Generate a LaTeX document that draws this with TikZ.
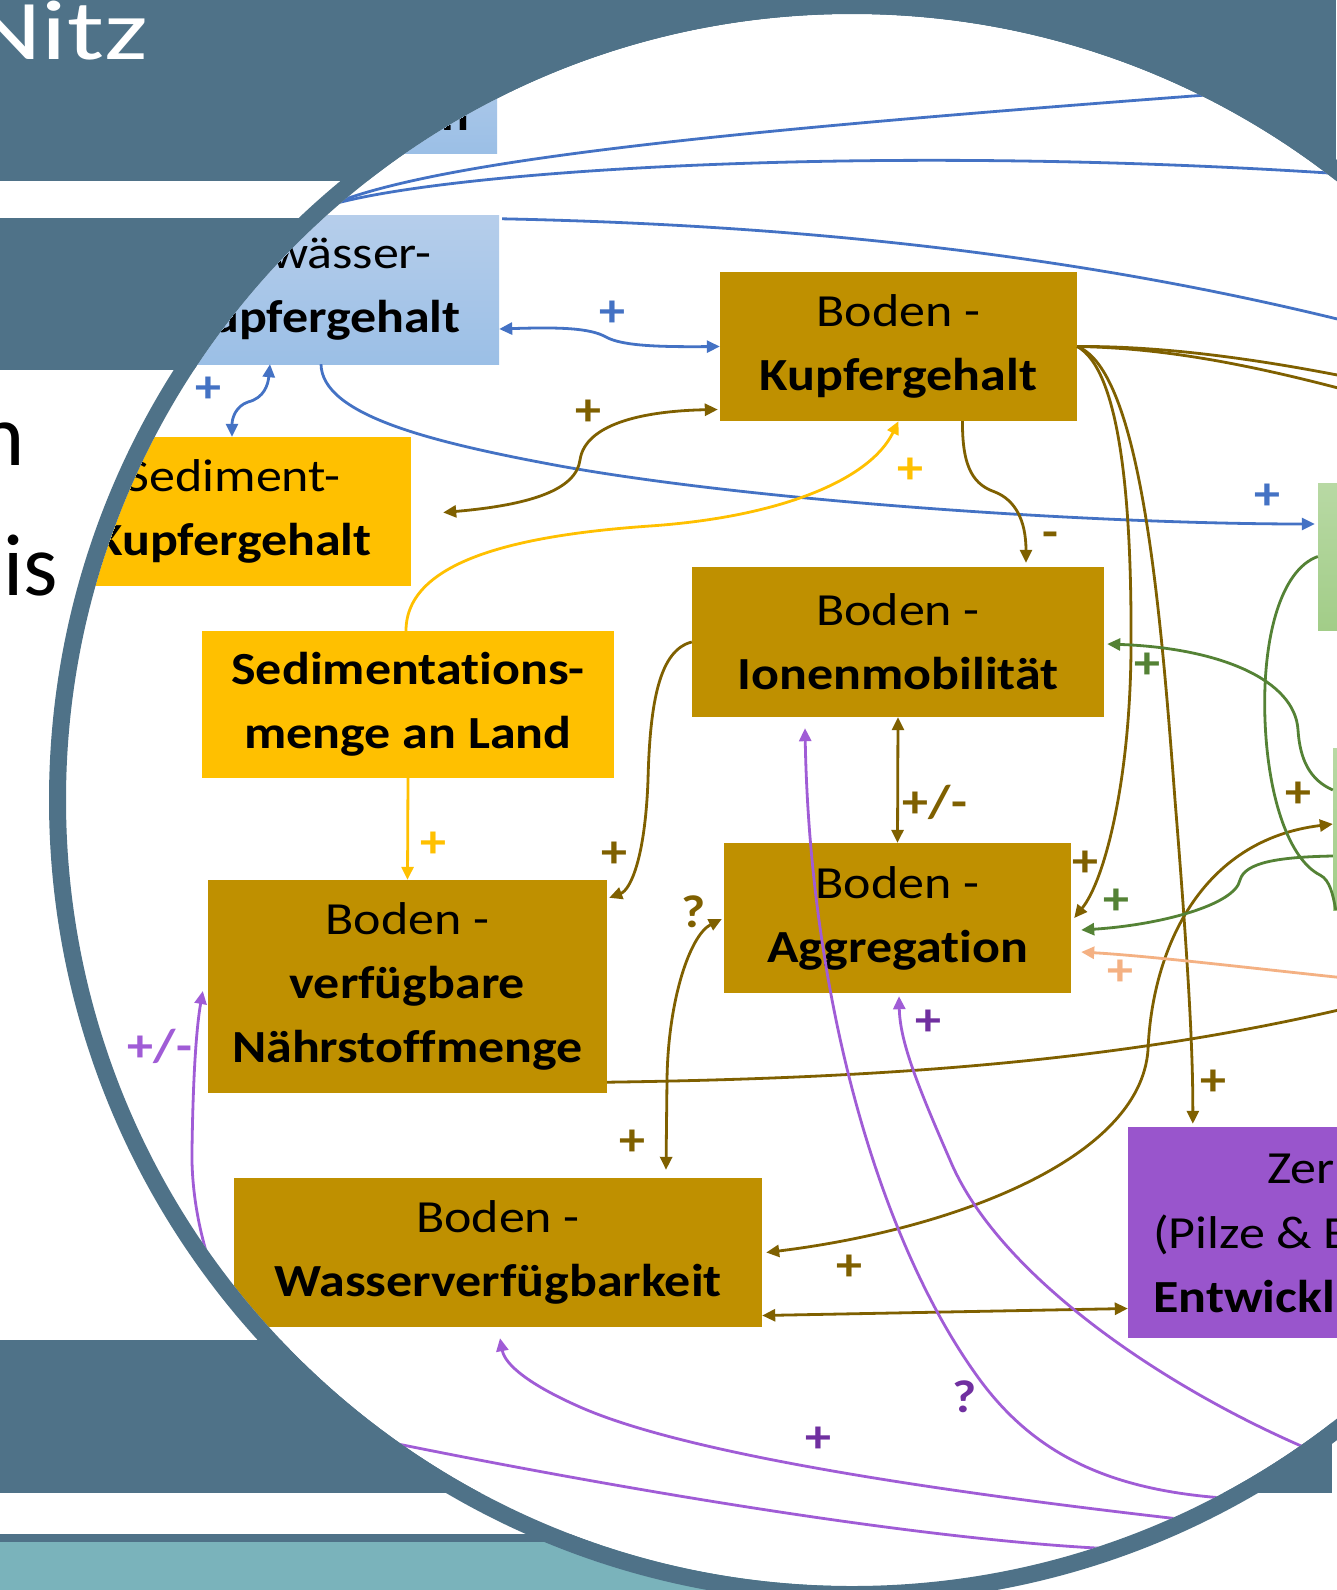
\documentclass[tikz,border=0pt]{standalone}
\usepackage{fontspec}
\setmainfont{Carlito}[Ligatures=CommonOff]
\newfontfamily\diagfont{Carlito}[FakeStretch=1.13,Ligatures=CommonOff]
\newfontfamily\titlefont{Carlito}[FakeStretch=1.3,Ligatures=CommonOff]
\usetikzlibrary{arrows.meta,calc}

\definecolor{slate}{RGB}{79,114,136}
\definecolor{tealband}{RGB}{122,179,187}
\definecolor{goldfill}{RGB}{191,144,0}
\definecolor{yellowfill}{RGB}{255,192,0}
\definecolor{blueA}{RGB}{182,206,235}
\definecolor{blueB}{RGB}{155,191,230}
\definecolor{purplefill}{RGB}{153,85,204}
\definecolor{greenA}{RGB}{184,217,164}
\definecolor{greenB}{RGB}{162,205,136}
\definecolor{bluec}{RGB}{68,114,196}
\definecolor{brownc}{RGB}{127,96,0}
\definecolor{yellowc}{RGB}{255,192,0}
\definecolor{greenc}{RGB}{84,130,53}
\definecolor{salmonc}{RGB}{244,177,131}
\definecolor{purplec}{RGB}{160,92,214}
\definecolor{purplelab}{RGB}{112,48,160}

\tikzset{
  box/.style={rectangle, inner sep=0pt, align=center, font=\diagfont\fontsize{46}{64}\selectfont},
  goldbox/.style={box, fill=goldfill},
  yellowbox/.style={box, fill=yellowfill},
  bluebox/.style={box, top color=blueA, bottom color=blueB},
  purplebox/.style={box, fill=purplefill},
  greenbox/.style={box, top color=greenA, bottom color=greenB},
  wire/.style={line width=2.8pt},
  link/.style={wire, -{Triangle[width=12pt,length=13pt]}},
  dlink/.style={wire, {Triangle[width=12pt,length=13pt]}-{Triangle[width=12pt,length=13pt]}},
  sgn/.style={inner sep=0pt, font=\diagfont\bfseries\fontsize{46}{50}\selectfont},
  boxtext/.style={inner sep=0pt, font=\diagfont\fontsize{46}{64}\selectfont},
  slidetext/.style={inner sep=0pt, font=\fontsize{88}{100}\selectfont},
}

\begin{document}
\begin{tikzpicture}[x=1pt,y=1pt,yscale=-1,xscale=1]
\useasboundingbox (0,0) rectangle (1336,1590);

% slide behind the lens
\fill[white] (0,0) rectangle (1336,1590);
\fill[slate] (0,0) rectangle (1336,181);
\fill[slate] (0,218) rectangle (852,370);
\fill[slate] (0,1340) rectangle (1332,1493);
\fill[slate] (0,1534) rectangle (852,1542);
\fill[tealband] (0,1542) rectangle (852,1590);
\node[inner sep=0pt, anchor=base east, text=white, font=\titlefont\fontsize{85}{100}\selectfont] (title) at (148,59) {Nitz};
\node[slidetext, anchor=base east] (word1) at (25,465) {n};
\node[slidetext, anchor=base east] (word2) at (58,595) {is};

% lens
\fill[white] (852,800) circle (786);
\begin{scope}
\clip (852,800) circle (786);

% boxes
\node[bluebox, minimum width=352pt, minimum height=113pt] (gewtop) at (321,96.5) {};
\node[boxtext, anchor=base east] (gewtoptext) at (470,130) {\bfseries n};
\node[bluebox, minimum width=354pt, minimum height=149pt] (gewkupfer) at (322,289.5) {Gewässer-\\\textbf{Kupfergehalt}};
\node[yellowbox, minimum width=356pt, minimum height=149pt] (sedkupfer) at (233,511.5) {Sediment-\\\textbf{Kupfergehalt}};
\node[goldbox, minimum width=357pt, minimum height=149pt] (bodkupfer) at (898.5,346.5) {Boden -\\\textbf{Kupfergehalt}};
\node[yellowbox, minimum width=412pt, minimum height=147pt] (sedmenge) at (408,704.5) {\textbf{Sedimentations-}\\\textbf{menge an Land}};
\node[goldbox, minimum width=412pt, minimum height=150pt] (ionen) at (898,642) {Boden -\\\textbf{Ionenmobilität}};
\node[goldbox, minimum width=347pt, minimum height=150pt] (aggr) at (897.5,918) {Boden -\\\textbf{Aggregation}};
\node[goldbox, minimum width=399pt, minimum height=213pt] (naehr) at (407.5,986.5) {Boden -\\\textbf{verfügbare}\\\textbf{Nährstoffmenge}};
\node[goldbox, minimum width=528pt, minimum height=149pt] (wasser) at (498,1252.5) {Boden -\\\textbf{Wasserverfügbarkeit}};
\node[purplebox, minimum width=372pt, minimum height=211pt] (zersetzer) at (1314,1232.5) {};
\node[boxtext, anchor=base west] (zers1) at (1267,1183) {Zer};
\node[boxtext, anchor=base west] (zers2) at (1153,1248) {(Pilze \& B};
\node[boxtext, anchor=base west] (zers3) at (1153,1312) {\bfseries Entwickl};
\node[greenbox, minimum width=182pt, minimum height=147pt] (gruen1) at (1409,556.5) {};
\node[greenbox, minimum width=167pt, minimum height=162pt] (gruen2) at (1416.5,829) {};

% free ends
\coordinate (blueL) at (330,205);
\coordinate (blueR1) at (1300,88);
\coordinate (blueR2) at (1400,178);
\coordinate (blueR3) at (1400,335);
\coordinate (brownR1) at (1400,388);
\coordinate (brownR2) at (1400,405);
\coordinate (brownR3) at (1400,995);
\coordinate (salmonR) at (1345,978);
\coordinate (purpleR1) at (1300,1500);
\coordinate (purpleR2) at (1340,1462);
\coordinate (purpleR3) at (1260,1528);
\coordinate (purpleR4) at (1150,1550);

% blue links
\draw[bluec, wire] (blueL) .. controls (450,155) and (800,125) .. (blueR1);
\draw[bluec, wire] (blueL) .. controls (450,170) and (900,140) .. (blueR2);
\draw[bluec, wire] ($(gewkupfer.north east)+(3,4)$) .. controls (800,225) and (1100,255) .. (blueR3);
\draw[bluec, dlink] ($(gewkupfer.east)+(0,39.5)$) .. controls (560,327) and (590,328) .. (606,337) .. controls (622,346) and (660,347) .. (bodkupfer.west);
\draw[bluec, dlink] ($(gewkupfer.south)+(-52,0)$) .. controls (268,385) and (264,398) .. (248,402) .. controls (236,406) and (232,418) .. ($(sedkupfer.north)+(-1,0)$);
\draw[bluec, link] ($(gewkupfer.south)+(-1,0)$) .. controls (322,415) and (430,442) .. (560,466) .. controls (760,502) and (1100,524) .. ($(gruen1.west)+(-3,-32.5)$);

% brown links
\draw[brownc, dlink] ($(sedkupfer.east)+(32,1)$) .. controls (530,505) and (576,490) .. (580,460) .. controls (585,425) and (640,411) .. ($(bodkupfer.west)+(-2,63)$);
\draw[brownc, link] ($(bodkupfer.south)+(64,0)$) .. controls (962,470) and (975,485) .. (995,492) .. controls (1015,500) and (1026,520) .. ($(ionen.north)+(128,-4)$);
\draw[brownc, wire] (bodkupfer.east) .. controls (1150,346) and (1250,355) .. (brownR1);
\draw[brownc, wire] (bodkupfer.east) .. controls (1160,348) and (1250,362) .. (brownR2);
\draw[brownc, link] (bodkupfer.east) .. controls (1120,370) and (1132,500) .. (1131,650) .. controls (1130,780) and (1105,880) .. ($(aggr.east)+(3,0)$);
\draw[brownc, link] (bodkupfer.east) .. controls (1140,370) and (1160,600) .. (1175,800) .. controls (1188,960) and (1193,1050) .. ($(zersetzer.north west)+(65,-3)$);
\draw[brownc, dlink] (ionen.south) -- (aggr.north);
\draw[brownc, link] (ionen.west) .. controls (660,650) and (650,700) .. (648,780) .. controls (645,860) and (630,890) .. ($(naehr.north east)+(2,18)$);
\draw[brownc, dlink] ($(aggr.west)+(-2,1)$) .. controls (690,935) and (668,1000) .. (667,1080) -- ($(wasser.north)+(168,-8)$);
\draw[brownc, wire] ($(naehr.south east)+(0,-11)$) .. controls (900,1078) and (1150,1060) .. (brownR3);
\draw[brownc, dlink] ($(wasser.east)+(4,0)$) .. controls (950,1230) and (1140,1160) .. (1148,1050) .. controls (1152,950) and (1200,840) .. ($(gruen2.west)+(0,-5)$);
\draw[brownc, dlink] ($(wasser.east)+(0,63)$) -- ($(zersetzer.west)+(0,76)$);

% yellow links
\draw[yellowc, link] ($(sedmenge.north)+(-2,0)$) .. controls (406,560) and (520,535) .. (650,526) .. controls (780,517) and (870,480) .. (bodkupfer.south);
\draw[yellowc, link] (sedmenge.south) -- (naehr.north);

% green and salmon links
\draw[greenc, link] ($(gruen2.west)+(0,-39)$) .. controls (1310,780) and (1300,760) .. (1298,730) .. controls (1295,680) and (1220,648) .. ($(ionen.east)+(3,2)$);
\draw[greenc, wire] (gruen1.west) .. controls (1280,570) and (1262,640) .. (1265,720) .. controls (1268,800) and (1290,860) .. (1320,875) .. controls (1330,880) and (1333,895) .. ($(gruen2.south west)+(3,0)$);
\draw[greenc, link] ($(gruen2.west)+(0,27)$) .. controls (1280,857) and (1245,862) .. (1240,880) .. controls (1235,905) and (1160,925) .. ($(aggr.east)+(10,12)$);
\draw[salmonc, link] (salmonR) .. controls (1250,968) and (1150,956) .. ($(aggr.east)+(10,34)$);

% purple links
\draw[purplec, link] (purpleR1) .. controls (1150,1502) and (1050,1475) .. (980,1380) .. controls (880,1244) and (810,1000) .. ($(ionen.south)+(-93,11)$);
\draw[purplec, link] (purpleR2) .. controls (1180,1400) and (1000,1280) .. (950,1160) .. controls (915,1080) and (900,1040) .. ($(aggr.south)+(1.5,3)$);
\draw[purplec, link] (purpleR3) .. controls (1000,1500) and (700,1460) .. (580,1407) .. controls (530,1385) and (505,1365) .. ($(wasser.south)+(2,11)$);
\draw[purplec, link] (purpleR4) .. controls (950,1547) and (600,1485) .. (393,1443) .. controls (243,1413) and (190,1250) .. (192,1150) .. controls (193,1080) and (196,1030) .. ($(naehr.west)+(-5,4.5)$);

% signs
\node[sgn, text=bluec] (s1) at (612,314) {+};
\node[sgn, text=bluec] (s2) at (208,390) {+};
\node[sgn, text=bluec] (s3) at (1267,497) {+};
\node[sgn, text=brownc] (s4) at (588,413) {+};
\node[sgn, text=yellowc] (s5) at (910,471) {+};
\node[sgn, text=brownc] (s6) at (1050,540) {-};
\node[sgn, text=greenc] (s7) at (1147,666) {+};
\node[sgn, text=brownc] (s8) at (935,802) {+/-};
\node[sgn, text=brownc] (s9) at (614,855) {+};
\node[sgn, text=yellowc] (s10) at (433,845) {+};
\node[sgn, text=brownc] (s11) at (694,912) {?};
\node[sgn, text=brownc] (s12) at (1085,864) {+};
\node[sgn, text=greenc] (s13) at (1116,902) {+};
\node[sgn, text=salmonc] (s14) at (1120,973) {+};
\node[sgn, text=purplelab] (s15) at (928,1023) {+};
\node[sgn, text=purplec] (s16) at (160,1046) {+/-};
\node[sgn, text=brownc] (s17) at (1213,1083) {+};
\node[sgn, text=brownc] (s18) at (632,1143) {+};
\node[sgn, text=brownc] (s19) at (1298,795) {+};
\node[sgn, text=brownc] (s20) at (849,1268) {+};
\node[sgn, text=purplelab] (s21) at (965,1397) {?};
\node[sgn, text=purplelab] (s22) at (818,1440) {+};
\end{scope}

\draw[slate, line width=17pt] (852,800) circle (794.5);
\end{tikzpicture}
\end{document}
